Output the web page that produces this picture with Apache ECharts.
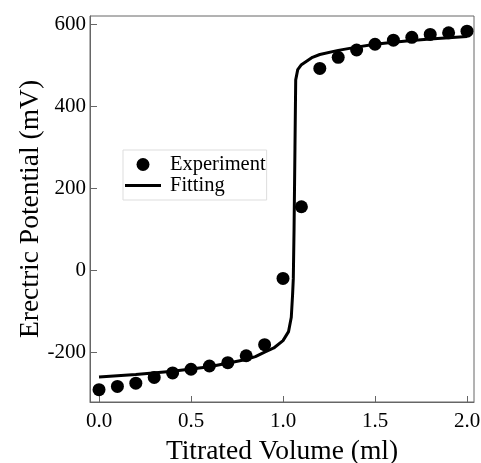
<!DOCTYPE html>
<html>
<head>
<meta charset="utf-8">
<script src="https://cdn.jsdelivr.net/npm/echarts@6/dist/echarts.min.js"></script>
<style>
  html, body { margin: 0; padding: 0; background: #fff; }
  #chart { width: 481px; height: 463px; }
</style>
</head>
<body>
<div id="chart"></div>
<script>
// measured points
var expX = [0.0, 0.1, 0.2, 0.3, 0.4, 0.5, 0.6, 0.7, 0.8, 0.9, 1.0, 1.1, 1.2, 1.3, 1.4, 1.5, 1.6, 1.7, 1.8, 1.9, 2.0];
var expY = [-292, -284, -276, -262, -251, -242, -234, -226, -209, -182, -20, 155, 493, 520, 538, 552, 562, 569, 576, 580, 584];

// fitted curve
var fitX = [0, 0.2, 0.4, 0.6, 0.8, 0.85, 0.9, 0.95, 1.0, 1.03, 1.045, 1.052, 1.056, 1.06, 1.065, 1.069, 1.08, 1.1, 1.12, 1.16, 1.2, 1.3, 1.4, 1.5, 1.6, 1.7, 1.8, 1.9, 2.0];
var fitY = [-261, -255, -247, -236, -218, -211, -200, -190, -172, -150, -115, -60, -20, 100, 300, 465, 490, 502, 508, 520, 527, 537, 545, 552, 557, 561, 565, 568, 571];

var xTicks = [0, 0.5, 1.0, 1.5, 2.0];
var yTicks = [-200, 0, 200, 400, 600];

function pairs(xs, ys) {
    return xs.map(function (x, i) { return [x, ys[i]]; });
}

var chart = echarts.init(document.getElementById('chart'));
var font = 'Liberation Serif';
var axisColor = '#666';

var option = {
    animation: false,
    textStyle: {fontFamily: font},
    grid: {
        left: 90, right: 7, top: 16, bottom: 61,
        outerBoundsMode: 'none',
        containLabel: false,
        show: true,
        borderColor: axisColor,
        borderWidth: 1
    },
    legend: {
        left: 123,
        top: 150,
        orient: 'vertical',
        itemGap: 0,
        itemWidth: 36,
        itemHeight: 13,
        padding: [4, 1, 4, 2],
        borderColor: '#ddd',
        borderWidth: 1,
        textStyle: {fontFamily: font, fontSize: 20.5, color: '#000', padding: [0, 0, 0, 4]},
        data: [
            {name: 'Experiment', icon: 'circle'},
            {name: 'Fitting', icon: 'path://M0,0H36V3H0Z'}
        ]
    },
    xAxis: {
        type: 'value',
        min: -0.049,
        max: 2.038,
        name: 'Titrated Volume (ml)',
        nameLocation: 'middle',
        nameGap: 36,
        nameMoveOverlap: false,
        nameTextStyle: {fontFamily: font, fontSize: 27.5, color: '#000'},
        axisLine: {onZero: false, lineStyle: {color: axisColor}},
        axisTick: {inside: true, length: 6, customValues: xTicks, lineStyle: {color: axisColor}},
        axisLabel: {
            customValues: xTicks,
            fontFamily: font, fontSize: 21, color: '#000', margin: 9,
            formatter: function (v) { return v.toFixed(1); }
        },
        splitLine: {show: false}
    },
    yAxis: {
        type: 'value',
        min: -322,
        max: 621,
        name: 'Erectric Potential (mV)',
        nameLocation: 'middle',
        nameGap: 45,
        nameMoveOverlap: false,
        nameTextStyle: {fontFamily: font, fontSize: 27.5, color: '#000'},
        axisLine: {show: true, onZero: false, lineStyle: {color: axisColor}},
        axisTick: {show: true, inside: true, length: 7, customValues: yTicks, lineStyle: {color: axisColor}},
        axisLabel: {
            customValues: yTicks,
            fontFamily: font, fontSize: 21, color: '#000', margin: 4
        },
        splitLine: {show: false}
    },
    series: [
        {
            name: 'Experiment',
            type: 'scatter',
            symbol: 'circle',
            symbolSize: 13,
            itemStyle: {color: '#000', opacity: 1},
            z: 3,
            data: pairs(expX, expY)
        },
        {
            name: 'Fitting',
            type: 'line',
            showSymbol: false,
            symbol: 'none',
            smooth: false,
            lineStyle: {color: '#000', width: 3},
            itemStyle: {color: '#000'},
            z: 2,
            data: pairs(fitX, fitY)
        }
    ]
};
chart.setOption(option);
</script>
</body>
</html>
